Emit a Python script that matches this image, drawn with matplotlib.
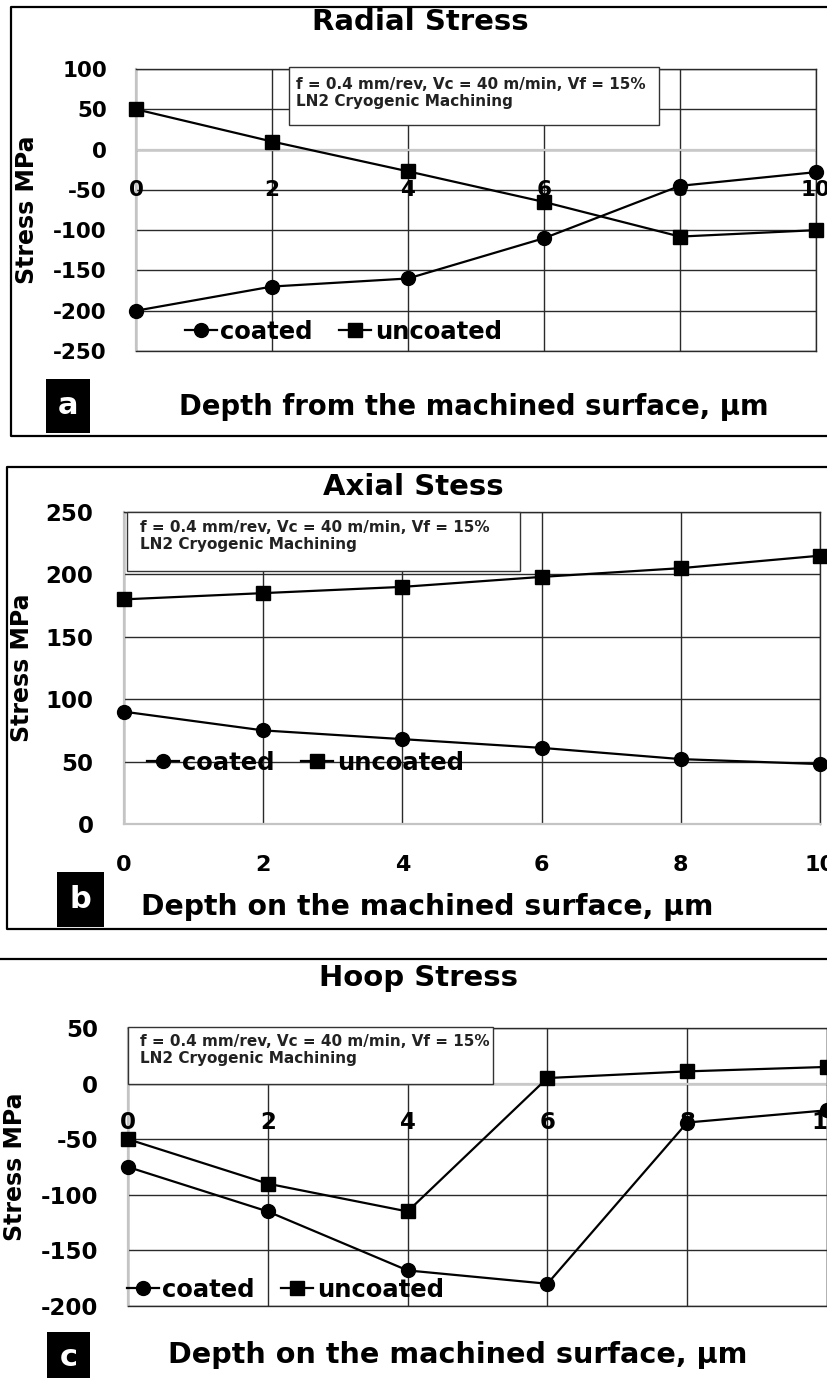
import matplotlib
matplotlib.use('Agg')
import matplotlib.pyplot as plt
from matplotlib.patches import Rectangle
from matplotlib.lines import Line2D

plt.rcParams['font.family'] = 'DejaVu Sans'
plt.rcParams['font.weight'] = 'bold'
plt.rcParams['axes.unicode_minus'] = False

# depth below the machined surface (um)
depth = [0, 2, 4, 6, 8, 10]

# residual stresses (MPa)
radial_coated = [-200, -170, -160, -110, -45, -28]
radial_uncoated = [50, 10, -27, -65, -108, -100]
axial_coated = [90, 75, 68, 61, 52, 48]
axial_uncoated = [180, 185, 190, 198, 205, 215]
hoop_coated = [-75, -115, -168, -180, -35, -24]
hoop_uncoated = [-50, -90, -115, 5, 11, 15]

radial_yticks = [-250, -200, -150, -100, -50, 0, 50, 100]
axial_yticks = [0, 50, 100, 150, 200, 250]
hoop_yticks = [-200, -150, -100, -50, 0, 50]

series_names = ['coated', 'uncoated']
cond_text = 'f = 0.4 mm/rev, Vc = 40 m/min, Vf = 15%\nLN2 Cryogenic Machining'

W, H = 828, 1378
fig = plt.figure(figsize=(W / 100, H / 100), dpi=100)


def fx(px):
    return px / W


def fy(py):
    return 1 - py / H


def add_panel(left, top, right, bottom):
    return fig.add_axes([fx(left), fy(bottom), (right - left) / W, (bottom - top) / H])


def style_axes(ax, ylim, yticks, ysize, ypad, zero_line):
    ax.set_xlim(0, 10)
    ax.set_ylim(*ylim)
    ax.set_xticks(depth)
    ax.set_yticks(yticks)
    ax.set_axisbelow(True)
    ax.grid(True, color='#2a2a2a', lw=1.0)
    ax.tick_params(axis='x', length=0, labelbottom=False)
    ax.tick_params(axis='y', length=0, labelsize=ysize, pad=ypad)
    for side in ['top', 'right', 'bottom']:
        ax.spines[side].set_color('#2a2a2a')
        ax.spines[side].set_linewidth(1.0)
    ax.spines['left'].set_color('#c4c4c4')
    ax.spines['left'].set_linewidth(1.6)
    if zero_line:
        ax.axhline(0, color='#c8c8c8', lw=1.6, zorder=1)
    else:
        ax.spines['bottom'].set_color('#c4c4c4')
        ax.spines['bottom'].set_linewidth(1.6)


def plot_series(ax, coated, uncoated):
    kw = dict(color='black', lw=1.6, clip_on=False, zorder=3)
    l1, = ax.plot(depth, coated, marker='o', markersize=10, **kw)
    l2, = ax.plot(depth, uncoated, marker='s', markersize=9.5, **kw)
    return l1, l2


def cond_box(left, top, right, bottom, tx, ty):
    fig.add_artist(Rectangle((fx(left), fy(bottom)), (right - left) / W, (bottom - top) / H,
                             transform=fig.transFigure, facecolor='white',
                             edgecolor='#333333', lw=1.0, zorder=5))
    fig.text(fx(tx), fy(ty), cond_text, fontsize=11, color='#222222', ha='left', va='top',
             linespacing=1.15, zorder=6)


def tag_box(left, top, right, bottom, letter):
    fig.add_artist(Rectangle((fx(left), fy(bottom)), (right - left) / W, (bottom - top) / H,
                             transform=fig.transFigure, facecolor='black',
                             edgecolor='none', zorder=5))
    fig.text(fx((left + right) / 2), fy((top + bottom) / 2), letter, color='white',
             fontsize=22, ha='center', va='center', zorder=6)


def frame(left, top, bottom):
    pts_x = [fx(835), fx(left), fx(left), fx(835)]
    pts_y = [fy(top), fy(top), fy(bottom), fy(bottom)]
    fig.add_artist(Line2D(pts_x, pts_y, transform=fig.transFigure, color='black', lw=1.6))


def add_legend(handles, x, y):
    fig.legend(handles, series_names, loc='center left', bbox_to_anchor=(fx(x), fy(y)),
               ncol=2, frameon=False, borderpad=0, borderaxespad=0, handlelength=1.3,
               handletextpad=0.15, columnspacing=1.1, fontsize=17.5)


# ---- (a) radial stress ----
frame(11, 7, 436)
ax_a = add_panel(136, 69, 816, 351)
style_axes(ax_a, (-250, 100), radial_yticks, 15.5, 21, zero_line=True)
h = plot_series(ax_a, radial_coated, radial_uncoated)
for d in depth:
    ax_a.text(d, -50, str(d), ha='center', va='center', fontsize=15.5, zorder=4, clip_on=False)
fig.text(fx(420), fy(22), 'Radial Stress', fontsize=21, ha='center', va='center')
cond_box(289, 67, 659, 125, 296, 77)
add_legend(h, 185, 332)
fig.text(fx(474), fy(407), 'Depth from the machined surface, µm', fontsize=19.8,
         ha='center', va='center')
fig.text(fx(27), fy(210), 'Stress MPa', fontsize=17, rotation=90, ha='center', va='center')
tag_box(46, 379, 90, 433, 'a')

# ---- (b) axial stress ----
frame(7, 467, 929)
ax_b = add_panel(124, 512, 820, 824)
style_axes(ax_b, (0, 250), axial_yticks, 16.5, 22, zero_line=False)
ax_b.tick_params(axis='x', labelbottom=True, labelsize=16, pad=22)
h = plot_series(ax_b, axial_coated, axial_uncoated)
fig.text(fx(413), fy(487), 'Axial Stess', fontsize=21, ha='center', va='center')
cond_box(127, 512, 520, 571, 140, 520)
add_legend(h, 147, 763)
fig.text(fx(427), fy(907), 'Depth on the machined surface, µm', fontsize=20.3,
         ha='center', va='center')
fig.text(fx(22), fy(668), 'Stress MPa', fontsize=17, rotation=90, ha='center', va='center')
tag_box(57, 872, 104, 927, 'b')

# ---- (c) hoop stress ----
fig.add_artist(Line2D([0, 1], [fy(959), fy(959)], transform=fig.transFigure,
                      color='black', lw=1.6))
ax_c = add_panel(128, 1028, 827, 1306)
style_axes(ax_c, (-200, 50), hoop_yticks, 16.5, 21.5, zero_line=True)
h = plot_series(ax_c, hoop_coated, hoop_uncoated)
for d in depth:
    ax_c.text(d, -35, str(d), ha='center', va='center', fontsize=16.5, zorder=4, clip_on=False)
fig.text(fx(419), fy(978), 'Hoop Stress', fontsize=21, ha='center', va='center')
cond_box(128, 1027, 493, 1084, 140, 1034)
add_legend(h, 127, 1290)
fig.text(fx(458), fy(1355), 'Depth on the machined surface, µm', fontsize=20.6,
         ha='center', va='center')
fig.text(fx(15), fy(1167), 'Stress MPa', fontsize=17, rotation=90, ha='center', va='center')
tag_box(47, 1332, 90, 1382, 'c')

fig.savefig('out.png', dpi=100)
